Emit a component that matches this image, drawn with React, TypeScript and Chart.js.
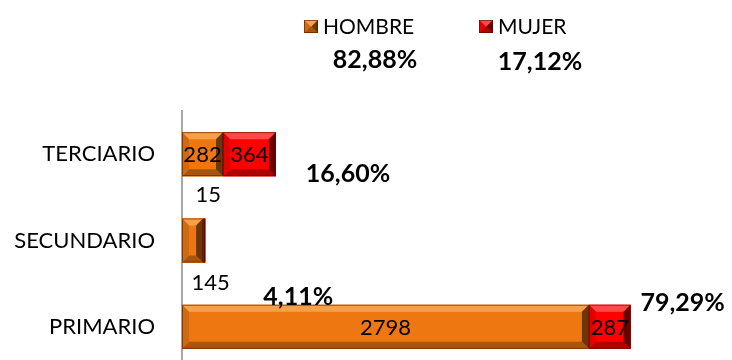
import React, { useEffect, useRef } from "react";
import { Chart, registerables } from "chart.js";

Chart.register(...registerables);

// Workforce by sector and sex
const categories = ["TERCIARIO", "SECUNDARIO", "PRIMARIO"];
const seriesNames = ["HOMBRE", "MUJER"];
const hombre = [282, 145, 2798];
const mujer = [364, 15, 287];

const FONT = "Lato, 'Open Sans', sans-serif";

type Bevel = { face: string; top: string; bottom: string; left: string; right: string };
const bevels: Bevel[] = [
  { face: "#EE7712", top: "#F7A04A", bottom: "#A8560F", left: "#CF6A10", right: "#6E3606" },
  { face: "#FF0000", top: "#FF4A4A", bottom: "#B00000", left: "#E20000", right: "#6A0000" },
];

const fmtPct = (v: number) => v.toFixed(2).replace(".", ",") + "%";

function drawBevelRect(ctx: CanvasRenderingContext2D, l: number, t: number, r: number, b: number, c: Bevel) {
  const w = r - l;
  const h = b - t;
  const s = Math.max(0, Math.min(7, w / 2, h / 2));
  ctx.save();
  ctx.fillStyle = c.face;
  ctx.fillRect(l, t, w, h);
  const poly = (pts: number[][], col: string) => {
    ctx.beginPath();
    ctx.moveTo(pts[0][0], pts[0][1]);
    for (let i = 1; i < pts.length; i++) ctx.lineTo(pts[i][0], pts[i][1]);
    ctx.closePath();
    ctx.fillStyle = col;
    ctx.fill();
  };
  poly([[l, t], [r, t], [r - s, t + s], [l + s, t + s]], c.top);
  poly([[l, b], [r, b], [r - s, b - s], [l + s, b - s]], c.bottom);
  poly([[l, t], [l + s, t + s], [l + s, b - s], [l, b]], c.left);
  poly([[r, t], [r - s, t + s], [r - s, b - s], [r, b]], c.right);
  ctx.strokeStyle = "rgba(60,20,0,0.55)";
  ctx.lineWidth = 1;
  ctx.strokeRect(l + 0.5, t + 0.5, Math.max(0, w - 1), Math.max(0, h - 1));
  ctx.restore();
}

// label offsets (px) for values that sit outside their bar, keyed by dataset-index
const outsideValueOffsets: Record<string, [number, number]> = {
  "0-1": [18, 41],
  "1-1": [4, -47],
};
// offsets of the share-of-total labels from the end of each stacked bar
const shareOffsets: [number, number][] = [
  [72, 20],
  [93, 56],
  [52, -24],
];

const bevelBars = {
  id: "bevelBars",
  afterDatasetsDraw(chart: any) {
    const ctx: CanvasRenderingContext2D = chart.ctx;
    chart.data.datasets.forEach((_ds: any, di: number) => {
      const meta = chart.getDatasetMeta(di);
      meta.data.forEach((el: any) => {
        const p = el.getProps(["x", "y", "base", "height"], true);
        const l = Math.min(p.x, p.base);
        const r = Math.max(p.x, p.base);
        drawBevelRect(ctx, l, p.y - p.height / 2, r, p.y + p.height / 2, bevels[di]);
      });
    });
  },
  afterDraw(chart: any) {
    const ctx: CanvasRenderingContext2D = chart.ctx;
    const datasets = chart.data.datasets;
    const grand = datasets.reduce((s: number, d: any) => s + d.data.reduce((a: number, v: number) => a + v, 0), 0);

    ctx.save();
    ctx.fillStyle = "#000";
    ctx.textAlign = "center";
    ctx.textBaseline = "middle";
    ctx.font = `22px ${FONT}`;
    // value labels
    datasets.forEach((ds: any, di: number) => {
      const meta = chart.getDatasetMeta(di);
      meta.data.forEach((el: any, i: number) => {
        const p = el.getProps(["x", "y", "base"], true);
        let cx = (p.x + p.base) / 2;
        let cy = p.y;
        const off = outsideValueOffsets[`${di}-${i}`];
        if (off) {
          cx += off[0];
          cy += off[1];
        }
        ctx.fillText(String(ds.data[i]), cx, cy + 1);
      });
    });

    // share of total per category
    ctx.font = `bold 25px ${FONT}`;
    const lastMeta = chart.getDatasetMeta(datasets.length - 1);
    chart.data.labels.forEach((_l: string, i: number) => {
      const total = datasets.reduce((s: number, d: any) => s + d.data[i], 0);
      const el = lastMeta.data[i];
      const p = el.getProps(["x", "y"], true);
      const off = shareOffsets[i];
      ctx.fillText(fmtPct((total / grand) * 100), p.x + off[0], p.y + off[1]);
    });

    // legend with share of total per series
    const legendX = [304, 479];
    const pctX = [375, 540];
    datasets.forEach((ds: any, di: number) => {
      drawBevelRect(ctx, legendX[di], 20, legendX[di] + 14, 33, bevels[di]);
      ctx.fillStyle = "#000";
      ctx.textAlign = "left";
      ctx.textBaseline = "alphabetic";
      ctx.font = `21px ${FONT}`;
      ctx.fillText(ds.label, legendX[di] + 19, 34);
      const sum = ds.data.reduce((a: number, v: number) => a + v, 0);
      ctx.textAlign = "center";
      ctx.font = `bold 25px ${FONT}`;
      ctx.fillText(fmtPct((sum / grand) * 100), pctX[di], 68 + di * 2);
    });
    ctx.restore();
  },
};

export default function App() {
  const canvasRef = useRef<HTMLCanvasElement | null>(null);

  useEffect(() => {
    if (!canvasRef.current) return;
    const chart = new Chart(canvasRef.current, {
      type: "bar",
      data: {
        labels: categories,
        datasets: [
          { label: seriesNames[0], data: hombre, backgroundColor: bevels[0].face, barPercentage: 0.51, categoryPercentage: 1 },
          { label: seriesNames[1], data: mujer, backgroundColor: bevels[1].face, barPercentage: 0.51, categoryPercentage: 1 },
        ],
      },
      options: {
        indexAxis: "y",
        responsive: false,
        animation: false,
        events: [],
        layout: { padding: { top: 111, right: 41, bottom: 2, left: 0 } },
        plugins: {
          legend: { display: false },
          tooltip: { enabled: false },
        },
        scales: {
          x: { stacked: true, min: 0, max: 3500, display: false },
          y: {
            stacked: true,
            grid: { display: false, drawTicks: false },
            border: { display: true, color: "#A6A6A6", width: 2 },
            ticks: { color: "#000", padding: 27, font: { family: FONT, size: 22 } },
            afterFit(scale: any) {
              scale.width = 182;
              scale.paddingTop = 0;
              scale.paddingBottom = 0;
            },
          },
        },
      },
      plugins: [bevelBars],
    });
    return () => chart.destroy();
  }, []);

  return (
    <div style={{ position: "fixed", left: 0, top: 0, width: 732, height: 360, overflow: "hidden", background: "#fff" }}>
      <canvas ref={canvasRef} width={732} height={372} style={{ display: "block" }} />
    </div>
  );
}
